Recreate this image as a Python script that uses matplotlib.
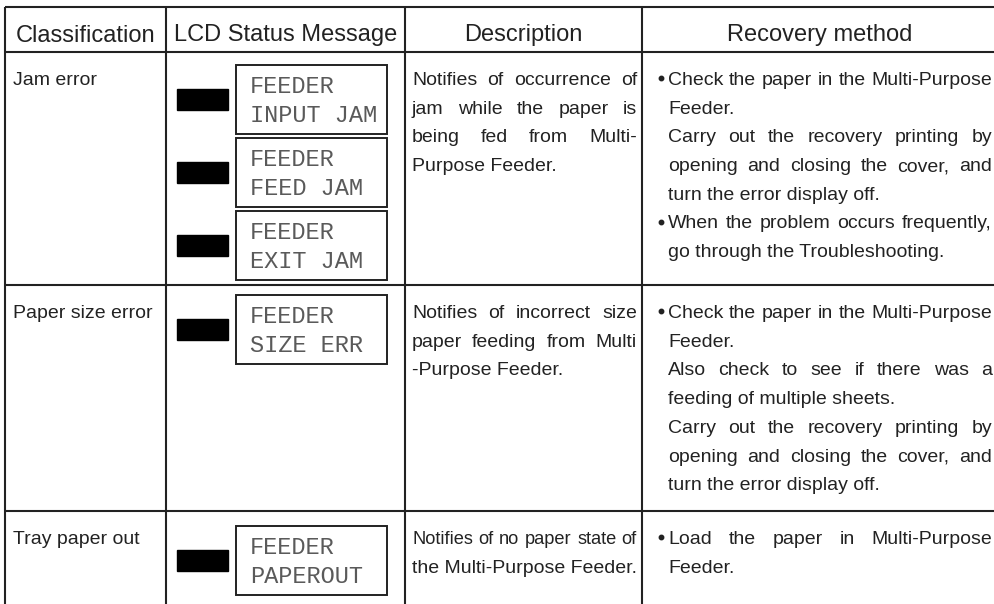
import matplotlib

matplotlib.use("Agg")
import matplotlib.pyplot as plt
from matplotlib.patches import Rectangle

# table content
headers = ["Classification", "LCD Status Message", "Description", "Recovery method"]
classifications = ["Jam error", "Paper size error", "Tray paper out"]
lcd_messages = [
    [("FEEDER", "INPUT JAM"), ("FEEDER", "FEED JAM"), ("FEEDER", "EXIT JAM")],
    [("FEEDER", "SIZE ERR")],
    [("FEEDER", "PAPEROUT")],
]
descriptions = [
    ["Notifies of occurrence of", "jam while the paper is",
     "being fed from Multi-", "Purpose Feeder."],
    ["Notifies of incorrect size", "paper feeding from Multi",
     "-Purpose Feeder."],
    ["Notifies of no paper state of", "the Multi-Purpose Feeder."],
]
# (bullet, lines) paragraphs per row
recovery = [
    [
        (True, ["Check the paper in the Multi-Purpose", "Feeder."]),
        (False, ["Carry out the recovery printing by",
                 "opening and closing the cover, and",
                 "turn the error display off."]),
        (True, ["When the problem occurs frequently,",
                "go through the Troubleshooting."]),
    ],
    [
        (True, ["Check the paper in the Multi-Purpose", "Feeder."]),
        (False, ["Also check to see if there was a",
                 "feeding of multiple sheets."]),
        (False, ["Carry out the recovery printing by",
                 "opening and closing the cover, and",
                 "turn the error display off."]),
    ],
    [
        (True, ["Load the paper in Multi-Purpose", "Feeder."]),
    ],
]

# layout (pixels)
W, H = 994, 604
COL_X = [5, 166, 405, 642, 998]
TOP_Y = 7
HEAD_Y = 52
ROW_Y = [52, 285, 511]
LINE_H = 28.7
FIRST_BASE = 33
LCD_OFFSET = [13, 10, 15]
BOX_H, BOX_PITCH = 69, 73
INK = "#222222"
BODY = dict(fontsize=14, family="Liberation Sans", color=INK)

fig = plt.figure(figsize=(W / 100, H / 100), dpi=100)
ax = fig.add_axes([0, 0, 1, 1])
ax.set_xlim(0, W)
ax.set_ylim(H, 0)
ax.axis("off")
renderer = fig.canvas.get_renderer()


def text_width(s, **kw):
    t = ax.text(0, 0, s, **kw)
    w = t.get_window_extent(renderer).width
    t.remove()
    return w


def draw_line(x0, x1, y, s, justify, **kw):
    avail = x1 - x0
    natural = text_width(s, **kw)
    if natural > avail:
        kw = dict(kw, fontsize=kw["fontsize"] * avail / natural)
    words = s.split(" ")
    if not justify or len(words) == 1:
        ax.text(x0, y, s, va="baseline", ha="left", **kw)
        return
    widths = [text_width(w, **kw) for w in words]
    gap = (avail - sum(widths)) / (len(words) - 1)
    x = x0
    for w, wd in zip(words, widths):
        ax.text(x, y, w, va="baseline", ha="left", **kw)
        x += wd + gap


# grid
for y in [TOP_Y, HEAD_Y] + ROW_Y[1:]:
    ax.plot([COL_X[0], W], [y, y], color=INK, lw=1.5, solid_capstyle="butt")
for x in COL_X[:-1]:
    ax.plot([x, x], [TOP_Y, H], color=INK, lw=1.5, solid_capstyle="butt")

# header
for i, h in enumerate(headers):
    cx = (COL_X[i] + COL_X[i + 1]) / 2
    ax.text(cx, 41.5, h, ha="center", va="baseline", fontsize=17,
            family="Liberation Sans", color=INK)

for r, top in enumerate(ROW_Y):
    base = top + FIRST_BASE
    # classification
    ax.text(13, base, classifications[r], va="baseline", **BODY)

    # LCD boxes
    for k, (l1, l2) in enumerate(lcd_messages[r]):
        by = top + LCD_OFFSET[r] + k * BOX_PITCH
        cy = by + BOX_H / 2
        ax.add_patch(Rectangle((236, by), 151, BOX_H, fill=False,
                               ec=INK, lw=1.4))
        ax.add_patch(Rectangle((177, cy - 10.5), 51, 21, color="black"))
        ax.text(250, cy - 6.5, l1, va="baseline", fontsize=17,
                family="Liberation Mono", color="#5a5a5a")
        ax.text(250, cy + 22.5, l2, va="baseline", fontsize=17,
                family="Liberation Mono", color="#5a5a5a")

    # description
    lines = descriptions[r]
    for j, s in enumerate(lines):
        draw_line(412, 637, base + j * LINE_H, s, j < len(lines) - 1, **BODY)

    # recovery
    j = 0
    for bullet, para in recovery[r]:
        for k, s in enumerate(para):
            y = base + j * LINE_H
            if bullet and k == 0:
                ax.plot(661, y - 7, "o", ms=3.2, color=INK)
            draw_line(668, 992, y, s, k < len(para) - 1, **BODY)
            j += 1

fig.savefig("out.png", dpi=100)
